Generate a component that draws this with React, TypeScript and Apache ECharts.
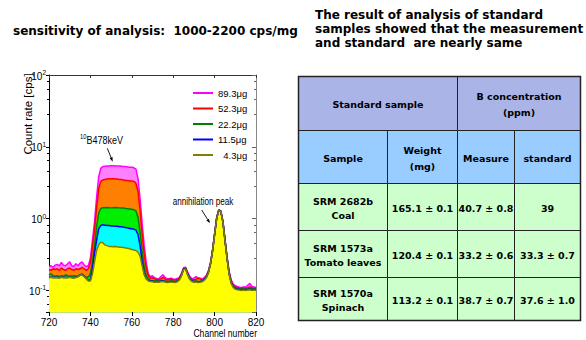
import React, { useEffect, useRef } from 'react';
import * as echarts from 'echarts';

// ---------- data ----------
const channels = Array.from({ length: 101 }, (_, i) => 720 + i);

const sampleNames = ['89.3μg', '52.3μg', '22.2μg', '11.5μg', '4.3μg'];

const counts893 = [
  0.215, 0.22, 0.21, 0.225, 0.23, 0.22, 0.245, 0.225, 0.22, 0.235,
  0.25, 0.22, 0.215, 0.235, 0.22, 0.24, 0.25, 0.225, 0.215, 0.22,
  0.28, 0.5, 0.9, 2.0, 3.8, 5.0, 5.3, 5.35, 5.4, 5.4,
  5.45, 5.45, 5.4, 5.4, 5.4, 5.35, 5.3, 5.3, 5.25, 5.2,
  5.2, 5.1, 4.9, 3.6, 1.9, 0.85, 0.42, 0.24, 0.17, 0.155,
  0.16, 0.15, 0.147, 0.145, 0.155, 0.165, 0.152, 0.145, 0.146, 0.148,
  0.144, 0.143, 0.146, 0.152, 0.172, 0.207, 0.21, 0.178, 0.156, 0.146,
  0.148, 0.155, 0.15, 0.148, 0.144, 0.15, 0.162, 0.187, 0.242, 0.362,
  0.615, 1.03, 1.33, 1.28, 0.93, 0.52, 0.295, 0.185, 0.14, 0.122,
  0.116, 0.113, 0.111, 0.11, 0.112, 0.111, 0.118, 0.125, 0.114, 0.112, 0.11,
];

const counts523 = [
  0.195, 0.19, 0.2, 0.195, 0.2, 0.19, 0.205, 0.195, 0.19, 0.2,
  0.205, 0.195, 0.19, 0.2, 0.195, 0.2, 0.21, 0.2, 0.19, 0.2,
  0.24, 0.4, 0.7, 1.4, 2.6, 3.3, 3.45, 3.5, 3.55, 3.6,
  3.6, 3.6, 3.55, 3.55, 3.5, 3.5, 3.45, 3.4, 3.4, 3.35,
  3.35, 3.3, 3.1, 2.4, 1.3, 0.6, 0.32, 0.2, 0.16, 0.148,
  0.15, 0.145, 0.142, 0.14, 0.145, 0.152, 0.145, 0.14, 0.142, 0.144,
  0.14, 0.139, 0.142, 0.148, 0.168, 0.203, 0.206, 0.174, 0.152, 0.142,
  0.14, 0.143, 0.148, 0.145, 0.14, 0.146, 0.158, 0.183, 0.238, 0.358,
  0.61, 1.02, 1.32, 1.27, 0.92, 0.515, 0.29, 0.18, 0.135, 0.118,
  0.112, 0.11, 0.108, 0.107, 0.108, 0.107, 0.109, 0.112, 0.108, 0.108, 0.107,
];

const counts222 = [
  0.165, 0.17, 0.16, 0.158, 0.16, 0.155, 0.16, 0.158, 0.165, 0.16,
  0.158, 0.158, 0.16, 0.157, 0.16, 0.165, 0.17, 0.16, 0.15, 0.155,
  0.17, 0.25, 0.42, 0.78, 1.2, 1.38, 1.42, 1.42, 1.43, 1.42,
  1.41, 1.42, 1.43, 1.42, 1.41, 1.4, 1.4, 1.38, 1.37, 1.36,
  1.35, 1.33, 1.28, 1.05, 0.65, 0.35, 0.21, 0.16, 0.145, 0.138,
  0.137, 0.135, 0.136, 0.134, 0.137, 0.138, 0.135, 0.133, 0.134, 0.136,
  0.134, 0.133, 0.136, 0.144, 0.164, 0.199, 0.202, 0.169, 0.146, 0.137,
  0.134, 0.135, 0.133, 0.134, 0.136, 0.142, 0.154, 0.179, 0.234, 0.354,
  0.605, 1.01, 1.31, 1.26, 0.91, 0.51, 0.286, 0.175, 0.13, 0.114,
  0.108, 0.106, 0.105, 0.104, 0.105, 0.104, 0.105, 0.106, 0.104, 0.105, 0.104,
];

const counts115 = [
  0.152, 0.154, 0.151, 0.152, 0.151, 0.15, 0.153, 0.151, 0.152, 0.151,
  0.153, 0.151, 0.15, 0.152, 0.156, 0.163, 0.166, 0.156, 0.146, 0.137,
  0.14, 0.2, 0.33, 0.5, 0.72, 0.8, 0.82, 0.81, 0.8, 0.8,
  0.79, 0.79, 0.78, 0.78, 0.77, 0.77, 0.76, 0.75, 0.74, 0.73,
  0.72, 0.71, 0.69, 0.6, 0.42, 0.25, 0.17, 0.145, 0.138, 0.135,
  0.134, 0.132, 0.133, 0.132, 0.134, 0.135, 0.133, 0.131, 0.132, 0.133,
  0.132, 0.131, 0.134, 0.142, 0.162, 0.197, 0.2, 0.167, 0.144, 0.135,
  0.132, 0.133, 0.131, 0.132, 0.134, 0.14, 0.152, 0.177, 0.232, 0.352,
  0.602, 1.01, 1.31, 1.26, 0.91, 0.505, 0.283, 0.172, 0.127, 0.112,
  0.106, 0.104, 0.103, 0.102, 0.103, 0.102, 0.103, 0.104, 0.102, 0.103, 0.102,
];

const counts43 = [
  0.15, 0.152, 0.15, 0.151, 0.15, 0.149, 0.152, 0.15, 0.151, 0.15,
  0.152, 0.15, 0.149, 0.151, 0.155, 0.162, 0.165, 0.155, 0.145, 0.135,
  0.135, 0.17, 0.25, 0.36, 0.43, 0.47, 0.46, 0.43, 0.42, 0.41,
  0.41, 0.405, 0.41, 0.405, 0.4, 0.4, 0.395, 0.39, 0.385, 0.38,
  0.37, 0.365, 0.36, 0.34, 0.3, 0.22, 0.165, 0.145, 0.135, 0.133,
  0.132, 0.13, 0.131, 0.13, 0.132, 0.133, 0.131, 0.129, 0.13, 0.131,
  0.13, 0.129, 0.132, 0.14, 0.16, 0.195, 0.198, 0.165, 0.142, 0.133,
  0.13, 0.131, 0.129, 0.13, 0.132, 0.138, 0.15, 0.175, 0.23, 0.35,
  0.6, 1.0, 1.3, 1.25, 0.9, 0.5, 0.28, 0.17, 0.125, 0.11,
  0.104, 0.102, 0.101, 0.1, 0.101, 0.1, 0.101, 0.102, 0.1, 0.101, 0.1,
];

const seriesValues = [counts893, counts523, counts222, counts115, counts43];

// table contents
const headerGroups = ['Standard sample', 'B concentration\n(ppm)'];
const headerColumns = ['Sample', 'Weight\n(mg)', 'Measure', 'standard'];
const tableSamples = ['SRM 2682b\nCoal', 'SRM 1573a\nTomato leaves', 'SRM 1570a\nSpinach'];
const tableWeights = ['165.1 ± 0.1', '120.4 ± 0.1', '113.2 ± 0.1'];
const tableMeasured = ['40.7 ± 0.8', '33.2 ± 0.6', '38.7 ± 0.7'];
const tableStandard = ['39', '33.3 ± 0.7', '37.6 ± 1.0'];

const titleLeft = 'sensitivity of analysis:  1000-2200 cps/mg';
const titleRight = 'The result of analysis of standard\nsamples showed that the measurement\nand standard  are nearly same';

// ---------- styles ----------
const lineColors = ['#ff00ff', '#ff0000', '#008000', '#0000ff', '#808000'];
const fillColors = ['#ff80ff', '#ff8000', '#00ee00', '#00ffff', '#ffff00'];
const FONT = 'Liberation Sans';
const BOLD = 'DejaVu Sans';

function buildTable(): any[] {
  const xs = [298.5, 387.5, 457.5, 514.5, 580.5];
  const ys = [76.5, 130.5, 183.5, 230.5, 277.5, 320.5];
  const els: any[] = [];
  const cell = (x0: number, x1: number, y0: number, y1: number, fill: string, text: string, lh: number) => {
    els.push({
      type: 'rect',
      shape: { x: x0, y: y0, width: x1 - x0, height: y1 - y0 },
      style: { fill, stroke: '#222', lineWidth: 1 },
    });
    els.push({
      type: 'text',
      x: (x0 + x1) / 2,
      y: (y0 + y1) / 2 + 1,
      style: {
        text,
        align: 'center',
        verticalAlign: 'middle',
        fontSize: 9.5,
        fontWeight: 'bold',
        fontFamily: BOLD,
        lineHeight: lh,
        fill: '#000',
      },
    });
  };
  cell(xs[0], xs[2], ys[0], ys[1], '#aab4e6', headerGroups[0], 16);
  cell(xs[2], xs[4], ys[0], ys[1], '#aab4e6', headerGroups[1], 16);
  for (let c = 0; c < 4; c++) cell(xs[c], xs[c + 1], ys[1], ys[2], '#99ccff', headerColumns[c], 16);
  for (let r = 0; r < tableSamples.length; r++) {
    const row = [tableSamples[r], tableWeights[r], tableMeasured[r], tableStandard[r]];
    for (let c = 0; c < 4; c++) cell(xs[c], xs[c + 1], ys[r + 2], ys[r + 3], '#ccffcc', row[c], 14);
  }
  els.push({
    type: 'rect',
    shape: { x: xs[0], y: ys[0], width: xs[4] - xs[0], height: ys[5] - ys[0] },
    style: { fill: 'none', stroke: '#222', lineWidth: 1.5 },
  });
  return els;
}

function arrow(x1: number, y1: number, x2: number, y2: number): any[] {
  const dx = x2 - x1, dy = y2 - y1;
  const len = Math.sqrt(dx * dx + dy * dy);
  const ux = dx / len, uy = dy / len;
  const px = -uy, py = ux;
  const bx = x2 - 4.5 * ux, by = y2 - 4.5 * uy;
  return [
    { type: 'line', shape: { x1, y1, x2: bx, y2: by }, style: { stroke: '#000', lineWidth: 0.9 } },
    {
      type: 'polygon',
      shape: { points: [[x2, y2], [bx + 1.6 * px, by + 1.6 * py], [bx - 1.6 * px, by - 1.6 * py]] },
      style: { fill: '#000' },
    },
  ];
}

export default function App() {
  const ref = useRef<HTMLDivElement>(null);
  useEffect(() => {
    document.body.style.margin = '0';
    if (!ref.current) return;
    const chart = echarts.init(ref.current, undefined, { renderer: 'svg' });

    const logLabel = (v: number) => {
      const e = Math.log10(v);
      const r = Math.round(e);
      if (Math.abs(e - r) > 1e-6) return '';
      return `{b|10}{s|${r}}`;
    };

    const series = sampleNames.map((name, k) => ({
      name,
      type: 'line',
      data: channels.map((c, i) => [c, seriesValues[k][i]]),
      showSymbol: false,
      symbol: 'none',
      color: lineColors[k],
      lineStyle: { color: lineColors[k], width: 1.5 },
      areaStyle: { color: fillColors[k], opacity: 1, origin: 'start' },
      emphasis: { disabled: true },
    }));

    const option: any = {
      animation: false,
      textStyle: { fontFamily: FONT },
      grid: { left: 49, right: 330, top: 75, bottom: 28 },
      legend: {
        orient: 'vertical',
        left: 193,
        top: 87,
        padding: 0,
        itemWidth: 20,
        itemHeight: 2,
        itemGap: 3.5,
        icon: 'rect',
        selectedMode: false,
        formatter: (n: string) => (n.length < 6 ? '  ' + n : n),
        textStyle: { fontSize: 9.5, color: '#000', fontFamily: FONT, lineHeight: 12 },
        data: sampleNames,
      },
      xAxis: [
        {
          type: 'value',
          min: 720,
          max: 820,
          interval: 20,
          position: 'bottom',
          axisLine: { lineStyle: { color: '#a6d84a', width: 1.5 } },
          axisTick: { show: true, length: 4, lineStyle: { color: '#000' } },
          axisLabel: { fontSize: 10, color: '#000', margin: 5, fontFamily: FONT },
          splitLine: { show: false },
        },
        {
          type: 'value',
          min: 720,
          max: 820,
          interval: 20,
          position: 'top',
          axisLine: { lineStyle: { color: '#333' } },
          axisTick: { show: true, inside: true, length: 3, lineStyle: { color: '#333' } },
          axisLabel: { show: false },
          splitLine: { show: false },
        },
      ],
      yAxis: [
        {
          type: 'log',
          logBase: 10,
          min: 0.05,
          max: 100,
          axisLine: { show: true, lineStyle: { color: '#000' } },
          axisTick: { show: true, length: 3, lineStyle: { color: '#000' } },
          minorTick: { show: true, length: 2, splitNumber: 5, lineStyle: { color: '#000' } },
          axisLabel: {
            margin: 3,
            color: '#000',
            formatter: logLabel,
            rich: {
              b: { fontSize: 10, fontFamily: FONT, color: '#000', lineHeight: 12, verticalAlign: 'bottom' },
              s: { fontSize: 6.5, fontFamily: FONT, color: '#000', lineHeight: 7, verticalAlign: 'top' },
            },
          },
          splitLine: { show: false },
        },
        {
          type: 'log',
          logBase: 10,
          min: 0.05,
          max: 100,
          position: 'right',
          axisLine: { show: true, lineStyle: { color: '#888' } },
          axisTick: { show: true, inside: true, length: 4, lineStyle: { color: '#666' } },
          minorTick: { show: true, length: 2, splitNumber: 5, lineStyle: { color: '#666' } },
          axisLabel: { show: false },
          splitLine: { show: false },
        },
      ],
      series,
      graphic: [
        {
          type: 'text',
          x: 13,
          y: 31,
          style: { text: titleLeft, verticalAlign: 'middle', fontSize: 12, fontWeight: 'bold', fontFamily: BOLD, fill: '#000' },
        },
        {
          type: 'text',
          x: 315,
          y: 8,
          style: { text: titleRight, verticalAlign: 'top', fontSize: 12, fontWeight: 'bold', fontFamily: BOLD, fill: '#000', lineHeight: 14 },
        },
        {
          type: 'text',
          x: 28,
          y: 114,
          rotation: Math.PI / 2,
          style: { text: 'Count rate [cps]', align: 'center', verticalAlign: 'middle', fontSize: 11.5, fontFamily: FONT, fill: '#000' },
        },
        {
          type: 'text',
          x: 257,
          y: 333,
          scaleX: 0.82,
          style: { text: 'Channel number', align: 'right', verticalAlign: 'middle', fontSize: 10.5, fontFamily: FONT, fill: '#000' },
        },
        {
          type: 'text',
          x: 80,
          y: 139,
          scaleX: 0.9,
          style: {
            text: '{s|10}{n|B478keV}',
            verticalAlign: 'middle',
            rich: {
              s: { fontSize: 6.5, fontFamily: FONT, fill: '#000', lineHeight: 7, verticalAlign: 'top' },
              n: { fontSize: 10, fontFamily: FONT, fill: '#000', lineHeight: 12, verticalAlign: 'bottom' },
            },
          },
        },
        ...arrow(107.3, 148.3, 112.7, 161.7),
        {
          type: 'text',
          x: 203,
          y: 201.5,
          scaleX: 0.81,
          style: { text: 'annihilation peak', align: 'center', verticalAlign: 'middle', fontSize: 10, fontFamily: FONT, fill: '#000' },
        },
        ...arrow(201.7, 210, 210, 223.3),
        ...buildTable(),
      ],
    };
    chart.setOption(option);
    return () => chart.dispose();
  }, []);
  return <div ref={ref} style={{ width: 586, height: 340 }} />;
}
